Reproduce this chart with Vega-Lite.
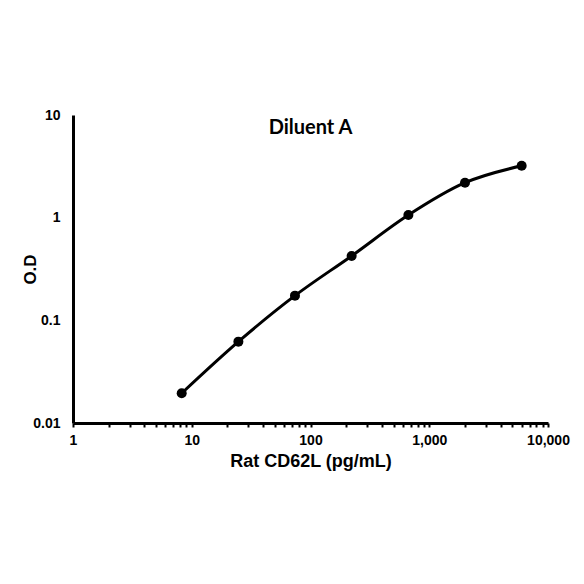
{
  "$schema": "https://vega.github.io/schema/vega-lite/v6.json",
  "autosize": "none",
  "width": 475,
  "height": 308,
  "padding": {"left": 73, "top": 115, "right": 36, "bottom": 161},
  "background": "white",
  "title": {"text": "Diluent A", "offset": -30, "fontSize": 20, "font": "Lato", "fontWeight": "bold", "color": "black"},
  "data": {"values": [
    {"conc": 8.23, "od": 0.0195},
    {"conc": 24.7, "od": 0.062},
    {"conc": 74, "od": 0.174},
    {"conc": 222, "od": 0.424},
    {"conc": 667, "od": 1.06},
    {"conc": 2000, "od": 2.19},
    {"conc": 6000, "od": 3.2}
  ]},
  "encoding": {
    "x": {"field": "conc", "type": "quantitative",
      "scale": {"type": "log", "domain": [1, 10000], "nice": false},
      "axis": {"title": "Rat CD62L (pg/mL)", "grid": false,
        "values": [1,2,3,4,5,6,7,8,9,10,20,30,40,50,60,70,80,90,100,200,300,400,500,600,700,800,900,1000,2000,3000,4000,5000,6000,7000,8000,9000,10000],
        "labelExpr": "indexof([1,10,100,1000,10000], datum.value) >= 0 ? format(datum.value, ',') : ''",
        "labelFont": "Liberation Sans", "labelFontWeight": "bold", "labelFontSize": 14, "labelColor": "black", "labelPadding": 6, "labelOverlap": false, "labelFlush": false, "labelBound": false,
        "titleFont": "Liberation Sans", "titleFontWeight": "bold", "titleFontSize": 18, "titleColor": "black", "titlePadding": 5,
        "domainColor": "black", "domainWidth": 3, "tickColor": "black", "tickWidth": 2, "tickSize": 4}},
    "y": {"field": "od", "type": "quantitative",
      "scale": {"type": "log", "domain": [0.01, 10], "nice": false},
      "axis": {"title": "O.D", "grid": false, "values": [0.01, 0.1, 1, 10],
        "labelExpr": "datum.value >= 1 ? format(datum.value, 'd') : format(datum.value, '.2~f')",
        "labelFont": "Liberation Sans", "labelFontWeight": "bold", "labelFontSize": 14, "labelColor": "black", "labelPadding": 13, "labelFlush": false,
        "titleFont": "Liberation Sans", "titleFontWeight": "bold", "titleFontSize": 17, "titleColor": "black",
        "titleX": -43, "titleY": 154, "titleBaseline": "middle", "titleAlign": "center", "titleAngle": -90,
        "domainColor": "black", "domainWidth": 3, "ticks": false}}
  },
  "layer": [
    {"mark": {"type": "line", "color": "black", "strokeWidth": 3, "interpolate": "monotone"}},
    {"mark": {"type": "point", "filled": true, "color": "black", "size": 100, "opacity": 1}}
  ],
  "config": {"view": {"stroke": null}}
}
